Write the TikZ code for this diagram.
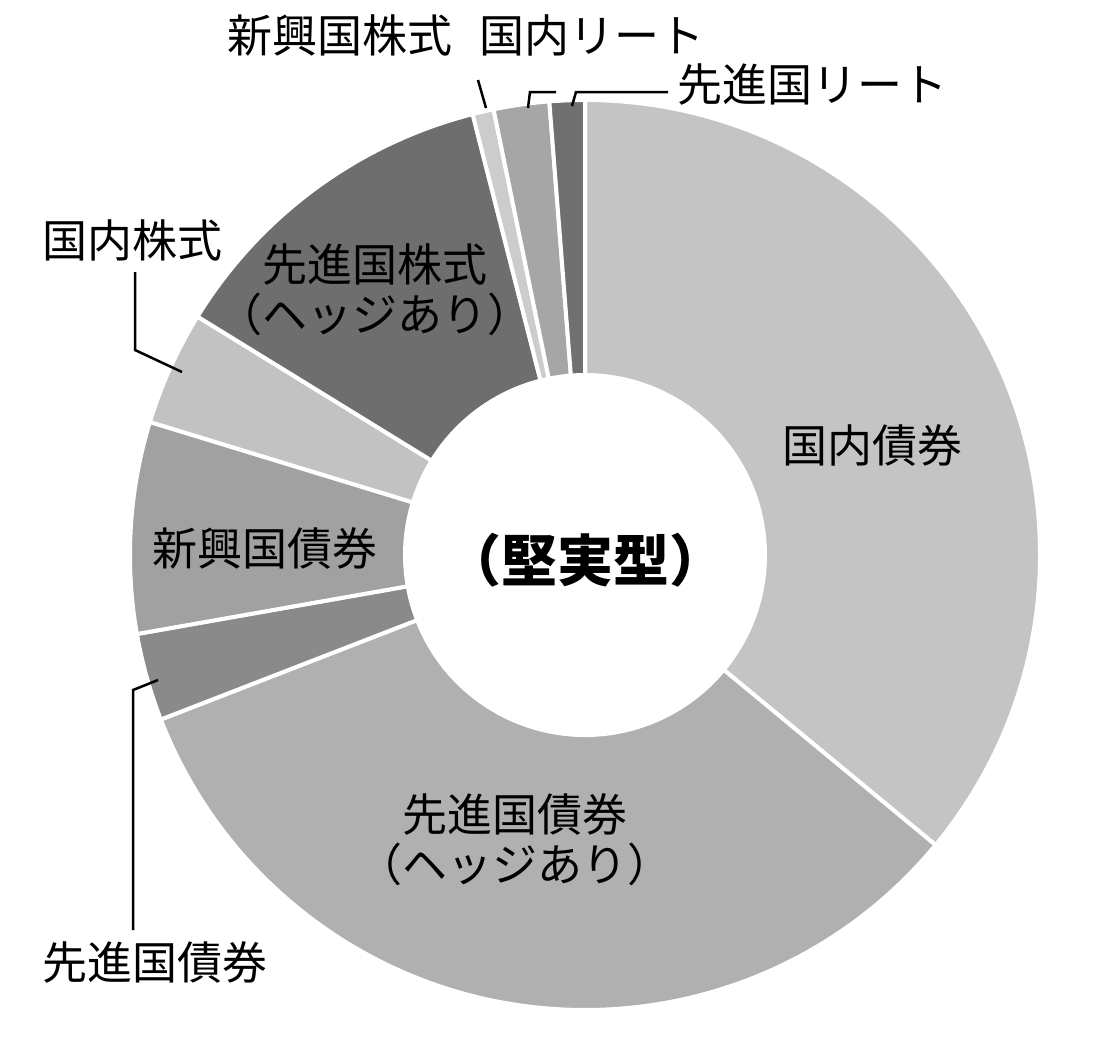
\documentclass[tikz,border=0pt]{standalone}
\usepackage{fontspec}
\setmainfont{Noto Sans CJK JP}
\usetikzlibrary{calc}
\begin{document}
\begin{tikzpicture}[x=1pt,y=1pt,
  lab/.style={font=\fontsize{45}{50}\selectfont, inner sep=0pt, align=center},
  lead/.style={draw=black, line width=2.5pt}]
\useasboundingbox (0,0) rectangle (1100,-1036);
\fill[white] (0,0) rectangle (1100,-1036);
\coordinate (c) at (585,-555);
\newcommand{\seg}[3]{\fill[#3, draw=white, line width=4pt] ($(c)+(#1:455)$) arc[start angle=#1,end angle=#2,radius=455] -- ($(c)+(#2:180)$) arc[start angle=#2,end angle=#1,radius=180] -- cycle;}
\definecolor{g1}{gray}{0.77}
\definecolor{g2}{gray}{0.69}
\definecolor{g3}{gray}{0.54}
\definecolor{g4}{gray}{0.63}
\definecolor{g5}{gray}{0.76}
\definecolor{g6}{gray}{0.43}
\definecolor{g7}{gray}{0.80}
\definecolor{g8}{gray}{0.65}
\definecolor{g9}{gray}{0.44}
\seg{90}{-39.6}{g1}
\seg{-39.6}{-158.8}{g2}
\seg{-158.8}{-170}{g3}
\seg{-170}{-197}{g4}
\seg{-197}{-211.6}{g5}
\seg{-211.6}{-255.7}{g6}
\seg{-255.7}{-258.4}{g7}
\seg{-258.4}{-265.5}{g8}
\seg{-265.5}{-270}{g9}
\node[lab] (kd) at (872,-445) {国内債券};
\node[lab] (sh) at (515,-840) {先進国債券\\（ヘッジあり）};
\node[lab] (sb) at (265,-548) {新興国債券};
\node[lab] (sk) at (375,-290) {先進国株式\\（ヘッジあり）};
\node[lab, font=\fontsize{56}{62}\selectfont\bfseries] (ct) at (585,-560) {（堅実型）};
\node[lab] (ks) at (132,-240) {国内株式};
\node[lab] (sd) at (155,-962) {先進国債券};
\node[lab] (ss) at (340,-35) {新興国株式};
\node[lab] (kr) at (592,-35) {国内リート};
\node[lab] (sr) at (812,-85) {先進国リート};
\coordinate (a1) at (135,-272); \coordinate (a2) at (135,-350); \coordinate (a3) at (182,-372);
\draw[lead] (a1) -- (a2) -- (a3);
\coordinate (b1) at (133,-930); \coordinate (b2) at (133,-690); \coordinate (b3) at (158,-680);
\draw[lead] (b1) -- (b2) -- (b3);
\coordinate (c1) at (478,-80); \coordinate (c2) at (486,-108);
\draw[lead] (c1) -- (c2);
\coordinate (d1) at (556,-92); \coordinate (d2) at (530,-92); \coordinate (d3) at (528,-108);
\draw[lead] (d1) -- (d2) -- (d3);
\coordinate (e1) at (668,-92); \coordinate (e2) at (576,-92); \coordinate (e3) at (572,-106);
\draw[lead] (e1) -- (e2) -- (e3);
\end{tikzpicture}
\end{document}
